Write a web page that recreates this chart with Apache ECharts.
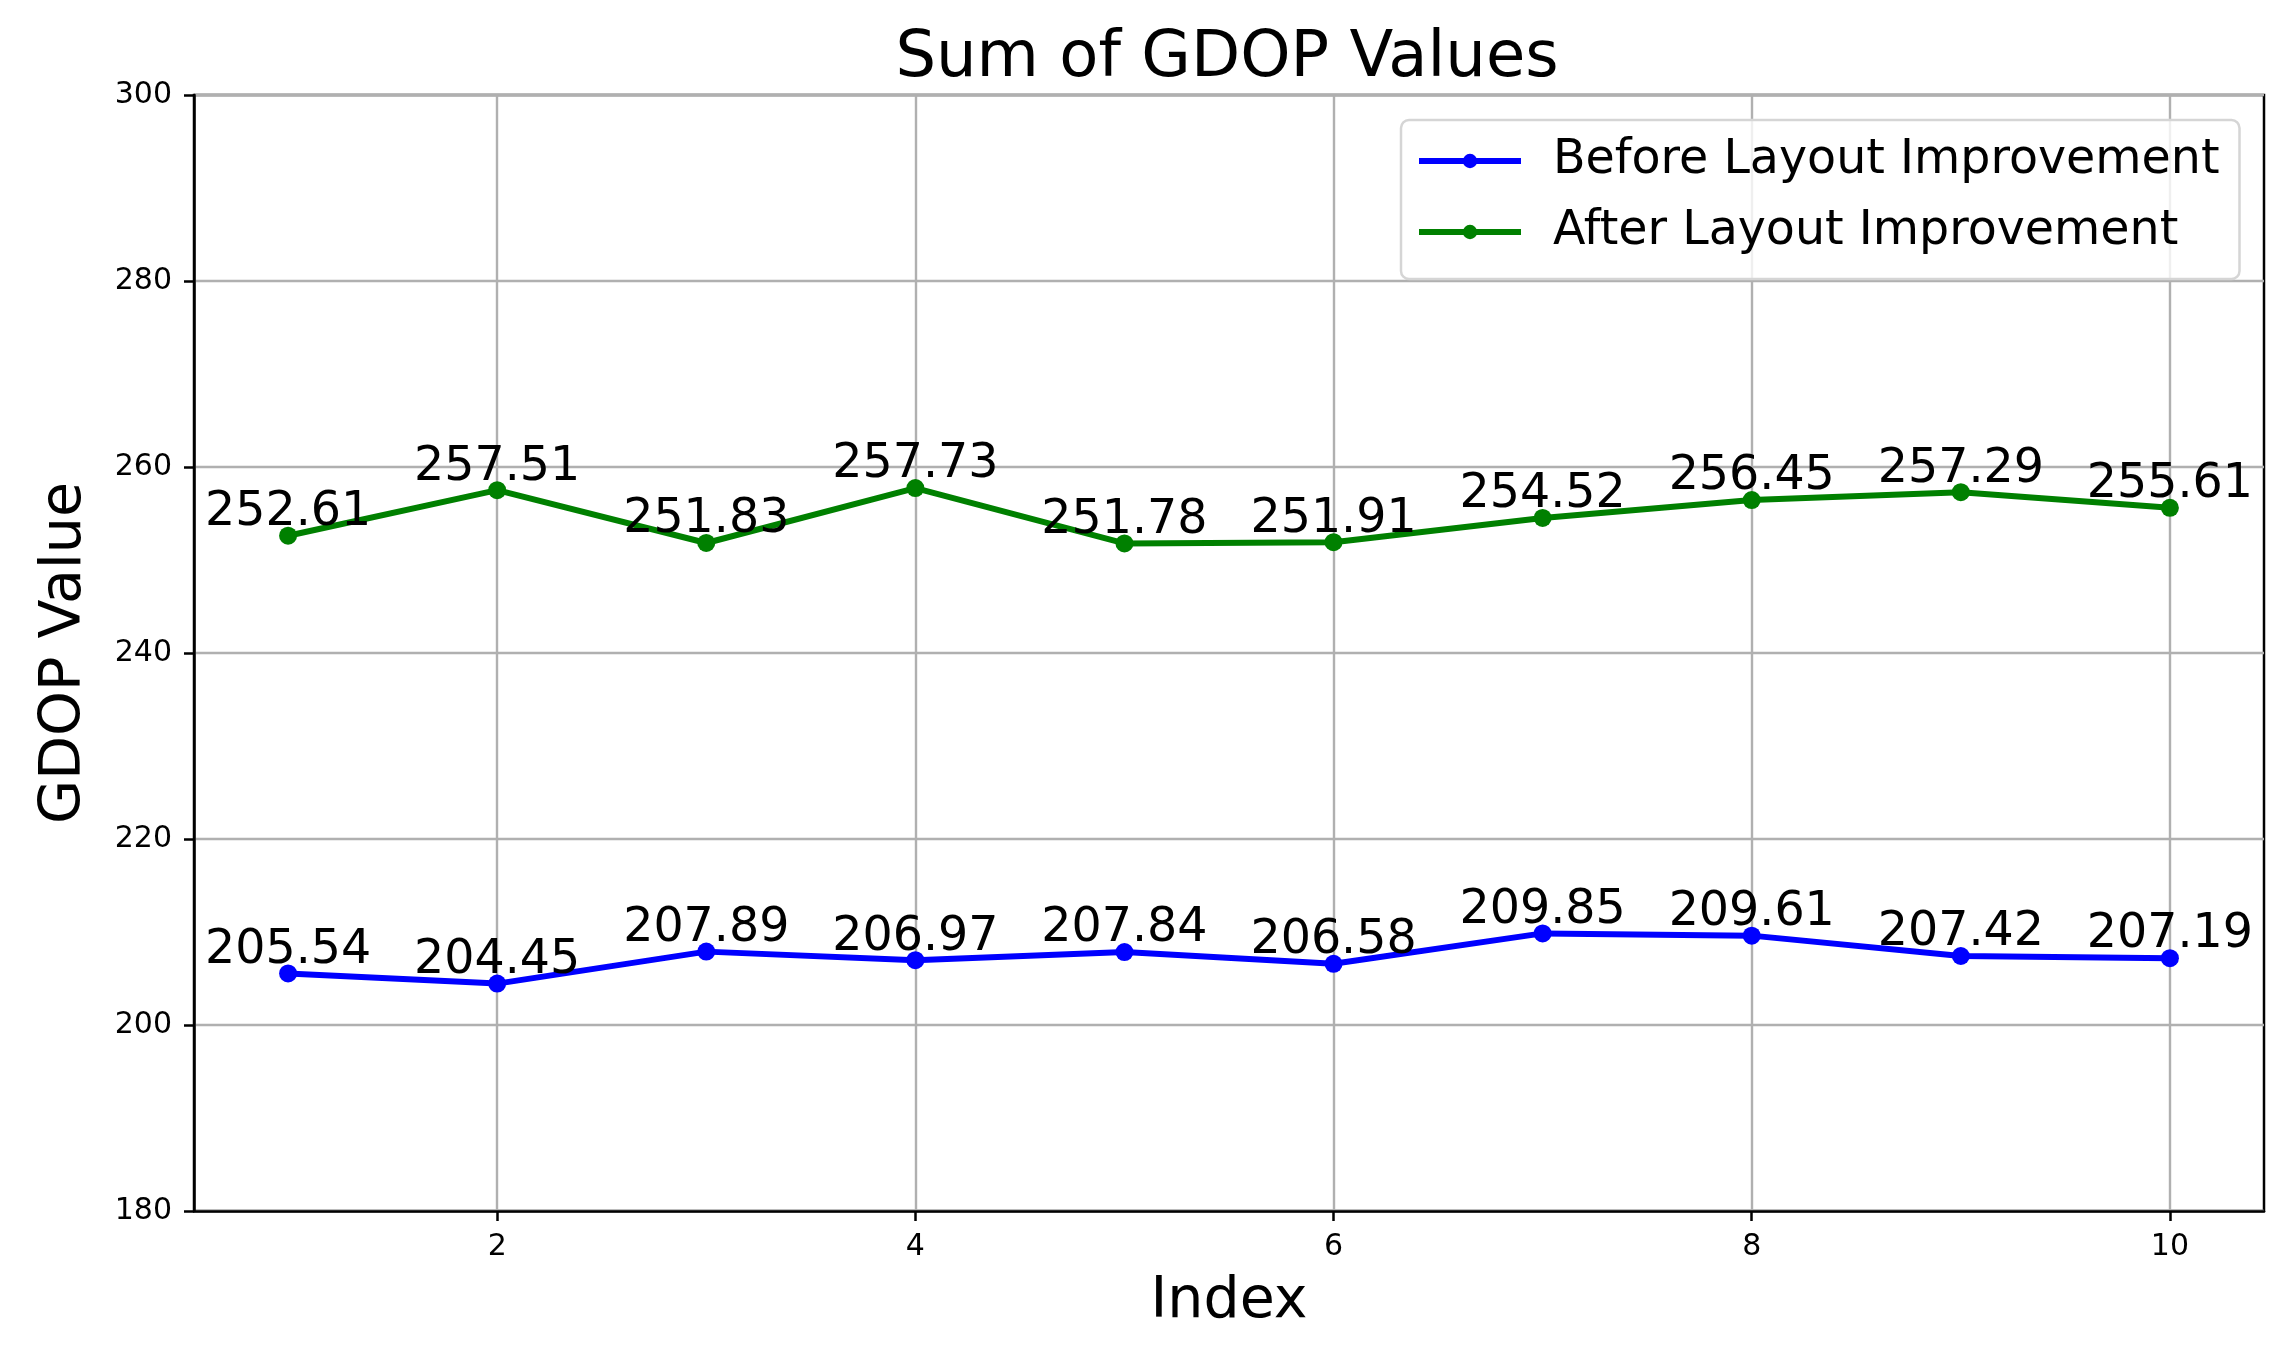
<!DOCTYPE html>
<html>
<head>
<meta charset="utf-8">
<script src="https://cdn.jsdelivr.net/npm/echarts@6/dist/echarts.min.js"></script>
<style>
html,body{margin:0;padding:0;background:#fff;}
#chart{width:2291px;height:1358px;}
</style>
</head>
<body>
<div id="chart"></div>
<script>
const indices = [1, 2, 3, 4, 5, 6, 7, 8, 9, 10];
const beforeValues = [205.54, 204.45, 207.89, 206.97, 207.84, 206.58, 209.85, 209.61, 207.42, 207.19];
const afterValues = [252.61, 257.51, 251.83, 257.73, 251.78, 251.91, 254.52, 256.45, 257.29, 255.61];
const xTicks = [2, 4, 6, 8, 10];
const yTicks = [180, 200, 220, 240, 260, 280, 300];

const FONT = 'DejaVu Sans';
const chart = echarts.init(document.getElementById('chart'), null, {renderer: 'canvas'});

function pairs(vals) { return indices.map((x, i) => [x, vals[i]]); }

const labelCfg = {
  show: true,
  position: 'top',
  distance: -10,
  color: '#000',
  fontFamily: FONT,
  fontSize: 47.5,
  formatter: p => p.value[1].toFixed(2)
};

chart.setOption({
  animation: false,
  backgroundColor: '#fff',
  title: {
    text: 'Sum of GDOP Values',
    left: 1222,
    textAlign: 'center',
    top: 22,
    textStyle: {fontFamily: FONT, fontSize: 64, fontWeight: 'normal', color: '#000'}
  },
  legend: {
    orient: 'vertical',
    left: 1401,
    top: 120,
    padding: [17, 20, 23, 15],
    itemGap: 23,
    itemWidth: 102,
    itemHeight: 18,
    backgroundColor: 'rgba(255,255,255,0.8)',
    borderColor: '#d5d5d5',
    borderWidth: 2.5,
    borderRadius: 8,
    lineStyle: {width: 6},
    textStyle: {fontFamily: FONT, fontSize: 47.5, color: '#000', padding: [0, 0, 0, 27]},
    data: ['Before Layout Improvement', 'After Layout Improvement']
  },
  grid: {
    left: 194, right: 27, top: 95, bottom: 147,
    show: true, borderColor: '#000', borderWidth: 2.5, containLabel: false
  },
  xAxis: {
    type: 'value',
    min: 0.55,
    max: 10.45,
    name: 'Index',
    nameLocation: 'middle',
    nameGap: 63,
    nameTextStyle: {fontFamily: FONT, fontSize: 57, color: '#000'},
    axisLine: {show: true, lineStyle: {color: '#000', width: 2.5}},
    axisTick: {show: true, length: 10, lineStyle: {color: '#000', width: 2.5}, customValues: xTicks},
    axisLabel: {fontFamily: FONT, fontSize: 30, color: '#000', margin: 21, customValues: xTicks},
    splitLine: {show: true, lineStyle: {color: '#b0b0b0', width: 2.4}}
  },
  yAxis: {
    type: 'value',
    min: yTicks[0],
    max: yTicks[yTicks.length - 1],
    interval: 20,
    name: 'GDOP Value',
    nameLocation: 'middle',
    nameGap: 100,
    nameTextStyle: {fontFamily: FONT, fontSize: 57, color: '#000'},
    axisLine: {show: true, lineStyle: {color: '#000', width: 2.5}},
    axisTick: {show: true, length: 10, lineStyle: {color: '#000', width: 2.5}},
    axisLabel: {fontFamily: FONT, fontSize: 30, color: '#000', margin: 22},
    splitLine: {show: true, lineStyle: {color: '#b0b0b0', width: 2.4}}
  },
  series: [
    {
      name: 'Before Layout Improvement',
      type: 'line',
      data: pairs(beforeValues),
      symbol: 'circle',
      symbolSize: 18,
      color: '#0000ff',
      lineStyle: {width: 6, color: '#0000ff'},
      itemStyle: {color: '#0000ff'},
      label: labelCfg,
      z: 3
    },
    {
      name: 'After Layout Improvement',
      type: 'line',
      data: pairs(afterValues),
      symbol: 'circle',
      symbolSize: 18,
      color: '#008000',
      lineStyle: {width: 6, color: '#008000'},
      itemStyle: {color: '#008000'},
      label: labelCfg,
      z: 3
    }
  ]
});
</script>
</body>
</html>
